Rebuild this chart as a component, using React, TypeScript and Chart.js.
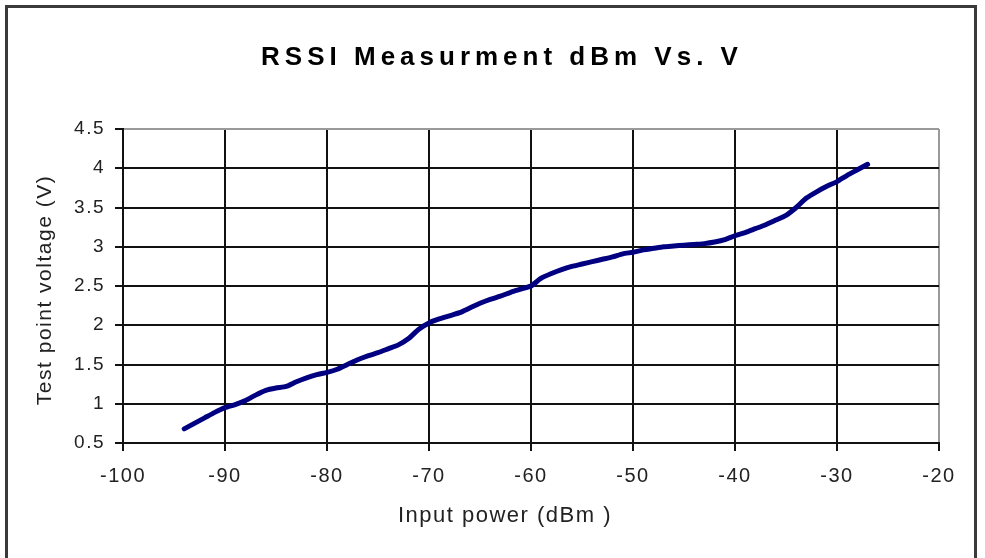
import React, { useEffect, useRef } from 'react';
import { Chart, registerables } from 'chart.js';

Chart.register(...registerables);

const TITLE = 'RSSI Measurment dBm Vs. V';
const X_TITLE = 'Input power (dBm )';
const Y_TITLE = 'Test point voltage (V)';

const inputPower = [
  -94, -93, -92, -91, -90, -89, -88, -87, -86, -85, -84, -83, -82, -81, -80, -79, -78, -77,
  -76, -75, -74, -73, -72, -71, -70, -69, -68, -67, -66, -65, -64, -63, -62, -61, -60, -59,
  -58, -57, -56, -55, -54, -53, -52, -51, -50, -49, -48, -47, -46, -45, -44, -43, -42, -41,
  -40, -39, -38, -37, -36, -35, -34, -33, -32, -31, -30, -29, -28, -27,
];
const voltage = [
  0.68, 0.75, 0.82, 0.89, 0.95, 0.99, 1.04, 1.11, 1.17, 1.2, 1.22, 1.28, 1.33, 1.37, 1.4, 1.44, 1.5, 1.56,
  1.61, 1.65, 1.7, 1.75, 1.83, 1.95, 2.03, 2.08, 2.12, 2.16, 2.22, 2.28, 2.33, 2.37, 2.42, 2.46, 2.5, 2.6,
  2.66, 2.71, 2.75, 2.78, 2.81, 2.84, 2.87, 2.91, 2.93, 2.96, 2.98, 3.0, 3.01, 3.02, 3.03, 3.04, 3.06, 3.09,
  3.14, 3.18, 3.23, 3.28, 3.34, 3.4, 3.5, 3.62, 3.7, 3.77, 3.83, 3.91, 3.98, 4.05,
];

const X_MIN = -100;
const X_MAX = -20;
const X_STEP = 10;
const Y_MIN = 0.5;
const Y_MAX = 4.5;
const Y_STEP = 0.5;

const FONT = '"Liberation Sans", Arial, Helvetica, sans-serif';

const framePlugin = {
  id: 'frame',
  beforeDraw(chart: any) {
    const ctx = chart.ctx;
    ctx.save();
    ctx.fillStyle = '#ffffff';
    ctx.fillRect(0, 0, chart.width, chart.height);
    ctx.strokeStyle = '#3a3a3a';
    ctx.lineWidth = 3;
    ctx.strokeRect(6.5, 6.5, 969, 580);
    ctx.restore();
    ctx.letterSpacing = '1.5px';
  },
  afterDraw(chart: any) {
    const ctx = chart.ctx;
    const area = chart.chartArea;
    ctx.save();
    ctx.fillStyle = '#000000';
    ctx.textAlign = 'center';
    ctx.textBaseline = 'middle';
    ctx.letterSpacing = '5px';
    ctx.font = `bold 26px ${FONT}`;
    ctx.fillText(TITLE, 502, 58);

    ctx.fillStyle = '#222222';
    ctx.letterSpacing = '1.5px';
    ctx.font = `22px ${FONT}`;
    ctx.fillText(X_TITLE, 505, 516);

    ctx.font = `21px ${FONT}`;
    ctx.translate(45, (area.top + area.bottom) / 2 + 5);
    ctx.rotate(-Math.PI / 2);
    ctx.fillText(Y_TITLE, 1, 0);
    ctx.restore();
    ctx.letterSpacing = '0px';
  },
};

export default function App() {
  const canvasRef = useRef<HTMLCanvasElement | null>(null);

  useEffect(() => {
    const canvas = canvasRef.current;
    if (!canvas) return;
    const points = inputPower.map((x, i) => ({ x, y: voltage[i] }));
    const chart = new Chart(canvas, {
      type: 'line',
      data: {
        datasets: [
          {
            data: points,
            borderColor: '#000080',
            backgroundColor: '#000080',
            borderWidth: 5,
            pointRadius: 0,
            tension: 0.2,
            borderCapStyle: 'round',
            borderJoinStyle: 'round',
          },
        ],
      },
      options: {
        responsive: false,
        animation: false,
        devicePixelRatio: 1,
        layout: { padding: { left: 10, top: 129, right: 46, bottom: 0 } },
        plugins: {
          legend: { display: false },
          title: { display: false },
          tooltip: { enabled: false },
        },
        scales: {
          x: {
            type: 'linear',
            min: X_MIN,
            max: X_MAX,
            afterFit: (s: any) => {
              s.height = 115;
            },
            ticks: {
              stepSize: X_STEP,
              padding: 13,
              color: '#222222',
              font: { family: FONT, size: 20 },
              callback: (v: any) => String(v),
              maxRotation: 0,
            },
            grid: {
              color: (c: any) => (c.tick && c.tick.value === X_MAX ? '#9a9a9a' : '#111111'),
              lineWidth: 2,
              tickLength: 8,
              tickColor: '#111111',
              drawTicks: true,
            },
            border: { display: true, color: '#111111', width: 2 },
            title: { display: false },
          },
          y: {
            type: 'linear',
            min: Y_MIN,
            max: Y_MAX,
            afterFit: (s: any) => {
              s.width = 113;
            },
            ticks: {
              stepSize: Y_STEP,
              padding: 10,
              color: '#222222',
              font: { family: FONT, size: 19 },
              callback: (v: any) => String(v),
            },
            grid: {
              color: (c: any) => (c.tick && c.tick.value === Y_MAX ? '#9a9a9a' : '#111111'),
              lineWidth: 2,
              tickLength: 8,
              tickColor: '#111111',
              drawTicks: true,
            },
            border: { display: true, color: '#111111', width: 2 },
            title: { display: false },
          },
        },
      },
      plugins: [framePlugin],
    } as any);
    return () => chart.destroy();
  }, []);

  return (
    <div style={{ position: 'absolute', left: 0, top: 0, width: 985, height: 558, overflow: 'hidden' }}>
      <canvas ref={canvasRef} width={985} height={558} style={{ display: 'block' }} />
    </div>
  );
}
